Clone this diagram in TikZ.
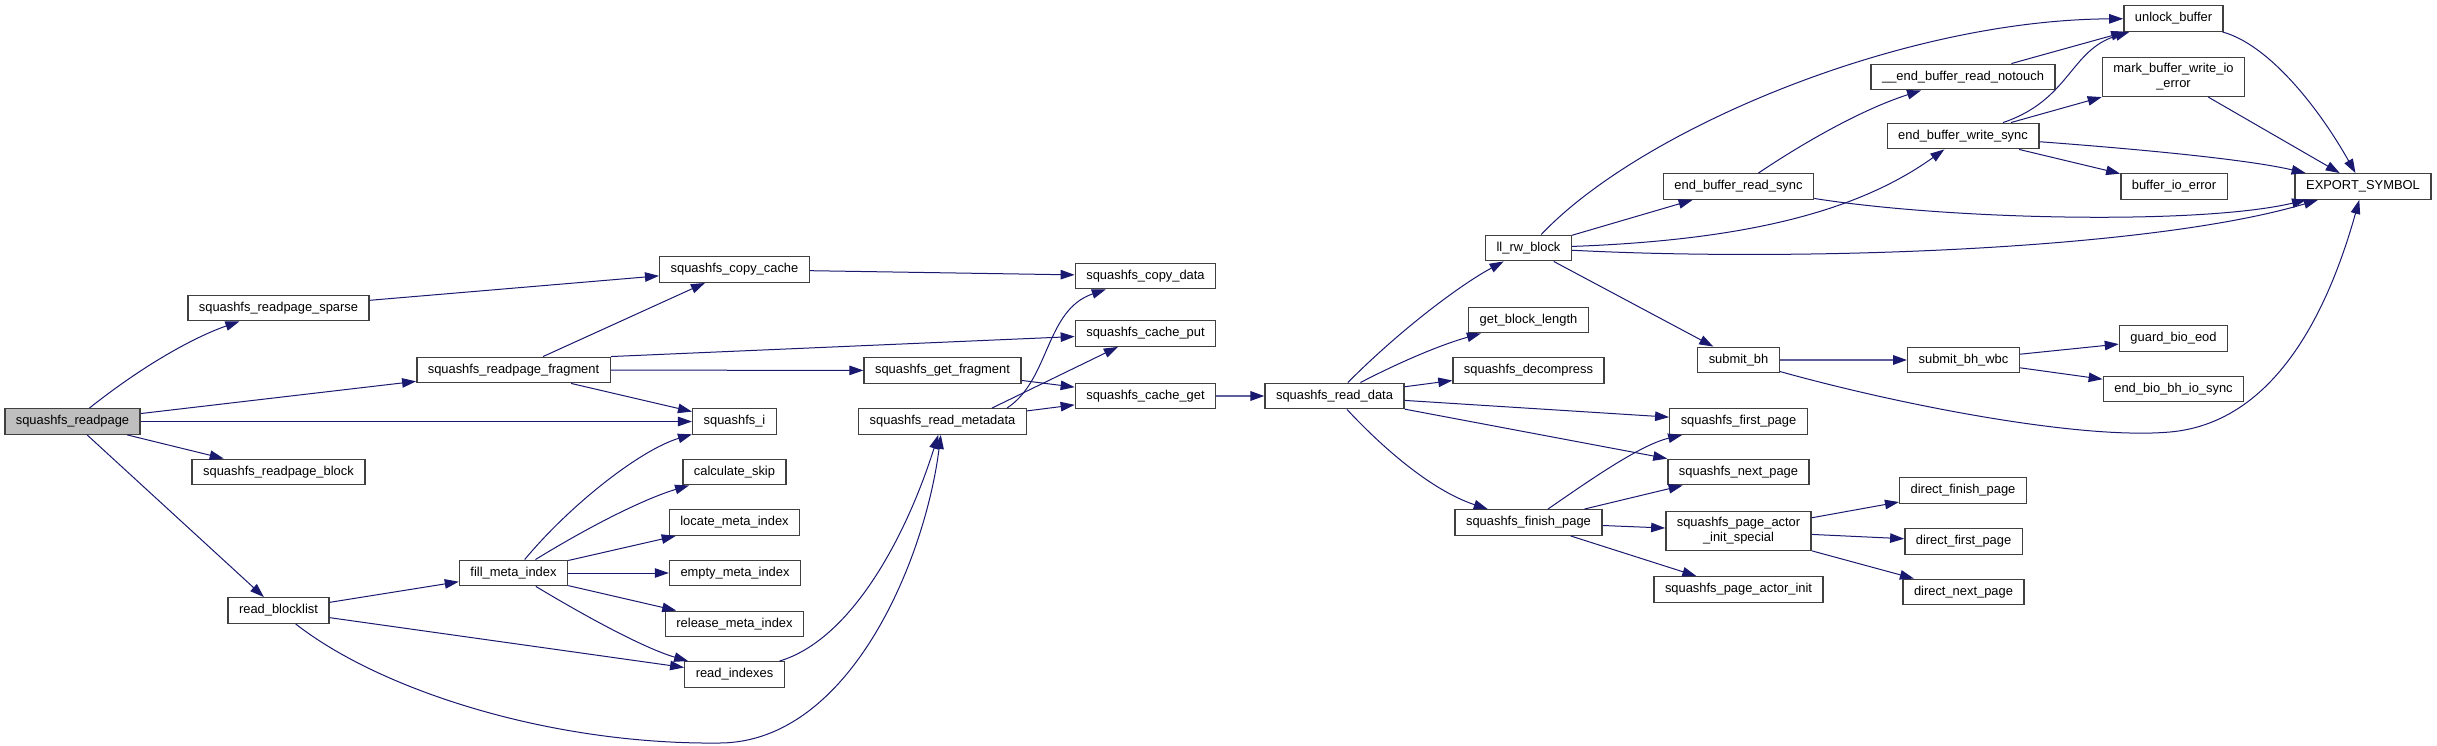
\documentclass[tikz,border=0pt]{standalone}
\usepackage{fontspec}
\setmainfont{Liberation Sans}
\usepackage{xcolor}
\usetikzlibrary{arrows.meta, calc}
\definecolor{callblue}{HTML}{191970}
\definecolor{rootgray}{HTML}{BFBFBF}

\begin{document}
\begin{tikzpicture}[x=1pt, y=-1pt,
  fn/.style={rectangle, draw=black!75, line width=1.4pt, fill=white,
    font=\fontsize{12.9}{15}\selectfont, inner xsep=11pt, inner ysep=6pt,
    minimum height=25.5pt, align=center},
  rootfn/.style={fn, fill=rootgray},
  callarrow/.style={draw=callblue, line width=1pt,
    -{Triangle[length=14pt, width=9.5pt, color=callblue]}},
  multicall/.style={callarrow, draw=callblue!70, line width=1.8pt}]

% Canvas
\fill[white] (0,0) rectangle (2437,746);

% Caller and first level
\node[rootfn] (readpage) at (72.5,421.5) {squashfs\_readpage};
\node[fn] (sparse)    at (278.5,308)   {squashfs\_readpage\_sparse};
\node[fn] (block)     at (278.5,472)   {squashfs\_readpage\_block};
\node[fn] (blocklist) at (278.5,610.5) {read\_blocklist};

% Second level
\node[fn] (fragment) at (513.5,370) {squashfs\_readpage\_fragment};
\node[fn] (fillmeta) at (513.5,573) {fill\_meta\_index};

% Third level
\node[fn] (copycache)   at (734.5,269.5) {squashfs\_copy\_cache};
\node[fn] (sqi)         at (734.5,421.5) {squashfs\_i};
\node[fn] (calcskip)    at (734.5,472)   {calculate\_skip};
\node[fn] (locatemeta)  at (734.5,522.5) {locate\_meta\_index};
\node[fn] (emptymeta)   at (735,573)     {empty\_meta\_index};
\node[fn] (releasemeta) at (734.5,624)   {release\_meta\_index};
\node[fn] (readidx)     at (734.5,674.5) {read\_indexes};

% Fragment and metadata readers
\node[fn] (getfrag)  at (942.5,370.5) {squashfs\_get\_fragment};
\node[fn] (readmeta) at (942.5,421.5) {squashfs\_read\_metadata};

% Cache
\node[fn] (copydata) at (1145.5,276)   {squashfs\_copy\_data};
\node[fn] (cacheput) at (1145.5,333.5) {squashfs\_cache\_put};
\node[fn] (cacheget) at (1145.5,396)   {squashfs\_cache\_get};
\node[fn] (readdata) at (1334.5,396)   {squashfs\_read\_data};

% Block layer
\node[fn] (llrw)   at (1528.5,248)   {ll\_rw\_block};
\node[fn] (getlen) at (1528.5,320)   {get\_block\_length};
\node[fn] (decomp) at (1528.5,370.5) {squashfs\_decompress};
\node[fn] (finish) at (1528.5,522.5) {squashfs\_finish\_page};

\node[fn] (readsync)     at (1738.5,186.5) {end\_buffer\_read\_sync};
\node[fn] (submitbh)     at (1738.5,360)   {submit\_bh};
\node[fn] (firstpg)      at (1738.5,421.5) {squashfs\_first\_page};
\node[fn] (nextpg)       at (1738.5,472)   {squashfs\_next\_page};
\node[fn] (actorspecial) at (1738.5,531)   {squashfs\_page\_actor\\\_init\_special};
\node[fn] (actorinit)    at (1738.5,589.5) {squashfs\_page\_actor\_init};

\node[fn] (notouch)   at (1963,77)     {\_\_end\_buffer\_read\_notouch};
\node[fn] (writesync) at (1963,136)    {end\_buffer\_write\_sync};
\node[fn] (submitwbc) at (1963.5,360)  {submit\_bh\_wbc};
\node[fn] (dfinish)   at (1963,490.5)  {direct\_finish\_page};
\node[fn] (dfirst)    at (1963.5,541.5) {direct\_first\_page};
\node[fn] (dnext)     at (1963.5,592)  {direct\_next\_page};

\node[fn] (unlock)   at (2173.5,18.5) {unlock\_buffer};
\node[fn] (markerr)  at (2173.5,77)   {mark\_buffer\_write\_io\\\_error};
\node[fn] (bufioerr) at (2174,186.5)  {buffer\_io\_error};
\node[fn] (guardeod) at (2173.5,338.5) {guard\_bio\_eod};
\node[fn] (endbio)   at (2173.5,389)  {end\_bio\_bh\_io\_sync};

\node[fn] (export) at (2363,186.5) {EXPORT\_SYMBOL};

% squashfs_readpage
\draw[callarrow] (readpage) .. controls (150,360) and (200,335) .. (sparse);
\draw[callarrow] (readpage) -- (fragment);
\draw[callarrow] (readpage) -- (sqi);
\draw[callarrow] (readpage) -- (block);
\draw[callarrow] (readpage) -- (blocklist);

% sparse and fragment readers
\draw[callarrow] (sparse) -- (copycache);
\draw[callarrow] (fragment) -- (copycache);
\draw[callarrow] (fragment.north east) -- (cacheput);
\draw[callarrow] (fragment) -- (getfrag);
\draw[callarrow] (fragment) -- (sqi);

% read_blocklist
\draw[callarrow] (blocklist) -- (fillmeta);
\draw[callarrow] (blocklist) -- (readidx);
\draw[callarrow] (blocklist) .. controls (380,690) and (550,745) .. (720,743)
  .. controls (850,742) and (925,560) .. (readmeta);

% fill_meta_index
\draw[callarrow] (fillmeta) .. controls (570,505) and (640,450) .. (sqi);
\draw[callarrow] (fillmeta) .. controls (600,520) and (650,497) .. (calcskip);
\draw[callarrow] (fillmeta) -- (locatemeta);
\draw[callarrow] (fillmeta) -- (emptymeta);
\draw[callarrow] (fillmeta) -- (releasemeta);
\draw[callarrow] (fillmeta) .. controls (600,625) and (650,650) .. (readidx);
\draw[callarrow] (readidx) .. controls (850,640) and (905,540) .. (readmeta);

% cache calls
\draw[callarrow] (copycache) -- (copydata);
\draw[callarrow] (getfrag) -- (cacheget);
\draw[callarrow] ([xshift=-20pt]readmeta.north east) .. controls (1050,380) and (1045,310) .. (copydata);
\draw[callarrow] ([xshift=-35pt]readmeta.north east) -- (cacheput);
\draw[callarrow] (readmeta) -- (cacheget);
\draw[multicall] (cacheget) -- (readdata);

% squashfs_read_data
\draw[callarrow] (readdata) .. controls (1400,330) and (1460,285) .. (llrw);
\draw[callarrow] (readdata) .. controls (1400,362) and (1440,345) .. (getlen);
\draw[callarrow] (readdata) -- (decomp);
\draw[callarrow] (readdata) -- (firstpg);
\draw[callarrow] (readdata) -- (nextpg);
\draw[callarrow] (readdata) .. controls (1380,445) and (1430,490) .. (finish);

% ll_rw_block
\draw[callarrow] (llrw) .. controls (1640,130) and (1900,20) .. (unlock);
\draw[callarrow] (llrw) -- (readsync);
\draw[callarrow] (llrw) .. controls (1750,240) and (1860,210) .. (writesync);
\draw[callarrow] (llrw) .. controls (1800,262) and (2150,250) .. (export);
\draw[callarrow] (llrw) -- (submitbh);

% buffer completion
\draw[callarrow] (readsync) .. controls (1800,145) and (1860,110) .. (notouch);
\draw[callarrow] (readsync) .. controls (1950,220) and (2200,225) .. (export);
\draw[callarrow] (notouch) -- (unlock);
\draw[callarrow] (writesync) .. controls (2070,100) and (2070,50) .. (unlock);
\draw[callarrow] (writesync) -- (markerr);
\draw[callarrow] (writesync) -- (bufioerr);
\draw[callarrow] (writesync) .. controls (2150,150) and (2250,160) .. (export);
\draw[callarrow] (unlock) .. controls (2270,45) and (2320,110) .. (export);
\draw[callarrow] (markerr) -- (export);

% submit_bh
\draw[multicall] (submitbh) -- (submitwbc);
\draw[callarrow] (submitbh) .. controls (1900,405) and (2080,440) .. (2170,432)
  .. controls (2260,424) and (2320,340) .. (export);
\draw[callarrow] (submitwbc) -- (guardeod);
\draw[callarrow] (submitwbc) -- (endbio);

% squashfs_finish_page
\draw[callarrow] (finish) .. controls (1590,480) and (1640,445) .. (firstpg);
\draw[callarrow] (finish) -- (nextpg);
\draw[callarrow] (finish) -- (actorspecial);
\draw[callarrow] (finish) -- (actorinit);
\draw[callarrow] (actorspecial) -- (dfinish);
\draw[callarrow] (actorspecial) -- (dfirst);
\draw[callarrow] (actorspecial) -- (dnext);

\end{tikzpicture}
\end{document}
